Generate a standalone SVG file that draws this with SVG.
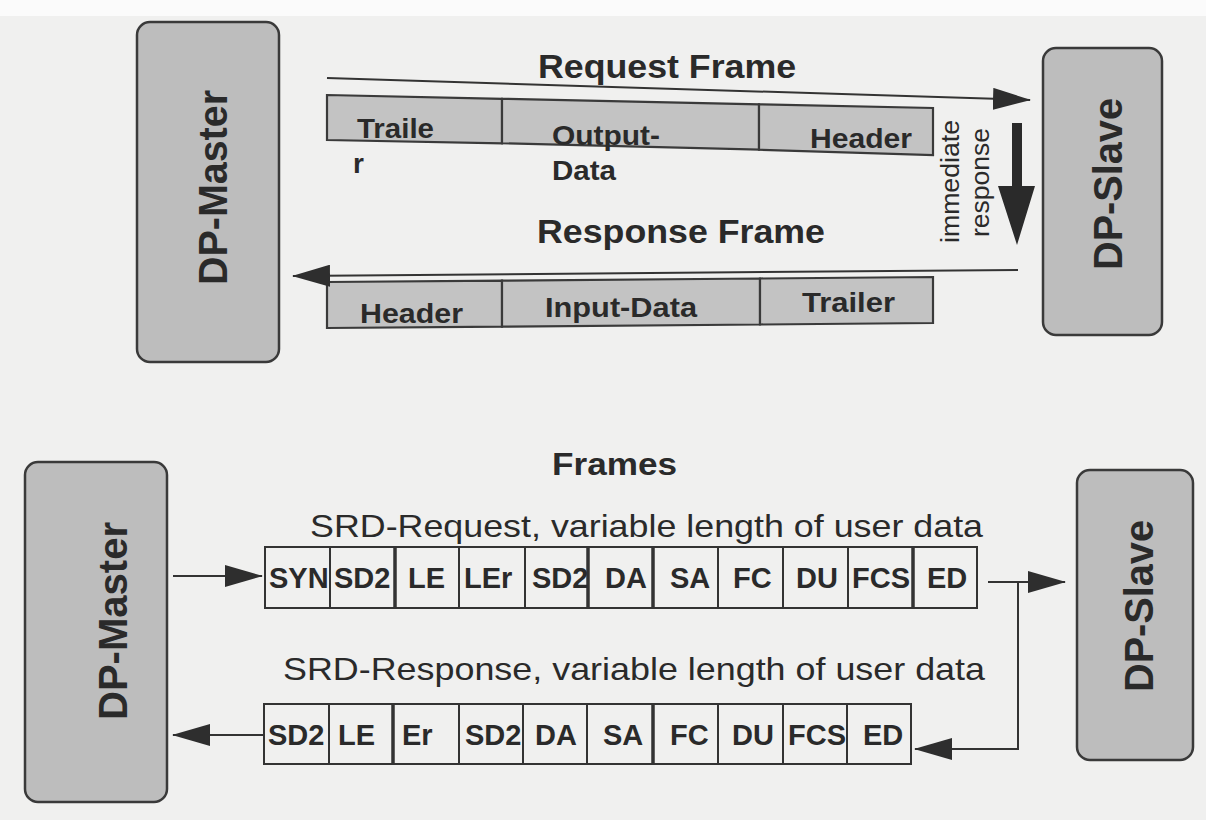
<svg xmlns="http://www.w3.org/2000/svg" width="1206" height="820" viewBox="0 0 1206 820">
<style>
.bg{fill:#f0f0ef}
.node{fill:#bdbdbd;stroke:#3a3a3a;stroke-width:2.5}
.cellg{fill:#c3c3c3;stroke:#3a3a3a;stroke-width:2.2}
.cell{fill:none;stroke:#333;stroke-width:2}
.thick{stroke-width:3.5}
.t{font-family:"Liberation Sans",Arial,Helvetica,sans-serif;fill:#2a2a2a}
.b{font-weight:bold}
.nl{font-size:40px;font-weight:bold}
.fl{font-size:28px;font-weight:bold}
.cl{font-size:29px;font-weight:bold}
.sub{font-size:32px}
.ln{fill:none;stroke:#333;stroke-width:2}
</style>
<defs>
<marker id="ah" viewBox="0 0 38 22" markerWidth="38" markerHeight="22" refX="37" refY="11" orient="auto" markerUnits="userSpaceOnUse">
<path d="M0,0 L38,11 L0,22 Z" fill="#2e2e2e"/>
</marker>
</defs>
<rect x="0" y="0" width="1206" height="820" fill="#fbfbfb"/>
<rect class="bg" x="0" y="16" width="1206" height="804"/>

<!-- Top section nodes -->
<g id="dp-master-top">
<rect class="node" x="137" y="22" width="142" height="340" rx="13"/>
<text class="t nl" transform="translate(227,285) rotate(-90)" textLength="195" lengthAdjust="spacingAndGlyphs">DP-Master</text>
</g>
<g id="dp-slave-top">
<rect class="node" x="1043" y="48" width="119" height="287" rx="13"/>
<text class="t nl" transform="translate(1122,270) rotate(-90)" textLength="172" lengthAdjust="spacingAndGlyphs">DP-Slave</text>
</g>

<g id="request-frame">
<polygon class="cellg" points="327,95 502,98.8 502,143.3 327,140"/>
<polygon class="cellg" points="502,98.8 759,104.3 759,149.7 502,143.3"/>
<polygon class="cellg" points="759,104.3 933,108 933,155 759,149.7"/>
<text class="t fl" x="357" y="138" textLength="77" lengthAdjust="spacingAndGlyphs">Traile</text>
<text class="t fl" x="353" y="173">r</text>
<text class="t fl" x="552" y="145" textLength="108" lengthAdjust="spacingAndGlyphs">Output-</text>
<text class="t fl" x="552" y="180" textLength="64" lengthAdjust="spacingAndGlyphs">Data</text>
<text class="t fl" x="810" y="148" textLength="102" lengthAdjust="spacingAndGlyphs">Header</text>
</g>

<g id="response-frame">
<polygon class="cellg" points="327,282 502,280.6 502,326.6 327,328"/>
<polygon class="cellg" points="502,280.6 760,278.5 760,324.5 502,326.6"/>
<polygon class="cellg" points="760,278.5 933,277 933,323 760,324.5"/>
<text class="t fl" x="360" y="323" textLength="103" lengthAdjust="spacingAndGlyphs">Header</text>
<text class="t fl" x="545" y="317" textLength="152" lengthAdjust="spacingAndGlyphs">Input-Data</text>
<text class="t fl" x="802" y="312" textLength="93" lengthAdjust="spacingAndGlyphs">Trailer</text>
</g>

<g id="top-labels">
<text class="t b" x="538" y="78" font-size="34" textLength="258" lengthAdjust="spacingAndGlyphs">Request Frame</text>
<text class="t b" x="537" y="243" font-size="34" textLength="288" lengthAdjust="spacingAndGlyphs">Response Frame</text>
<text class="t" font-size="25" transform="translate(959,243) rotate(-90)" textLength="123" lengthAdjust="spacingAndGlyphs">immediate</text>
<text class="t" font-size="25" transform="translate(989,237) rotate(-90)" textLength="109" lengthAdjust="spacingAndGlyphs">response</text>
</g>

<!-- Bottom section nodes -->
<g id="dp-master-bottom">
<rect class="node" x="25" y="462" width="142" height="340" rx="13"/>
<text class="t nl" transform="translate(127,720) rotate(-90)" textLength="198" lengthAdjust="spacingAndGlyphs">DP-Master</text>
</g>
<g id="dp-slave-bottom">
<rect class="node" x="1077" y="470" width="116" height="290" rx="13"/>
<text class="t nl" transform="translate(1153,692) rotate(-90)" textLength="172" lengthAdjust="spacingAndGlyphs">DP-Slave</text>
</g>

<g id="frames-title">
<text class="t b" x="552" y="475" font-size="32" textLength="125" lengthAdjust="spacingAndGlyphs">Frames</text>
</g>

<g id="srd-request">
<text class="t sub" x="310" y="537" textLength="673" lengthAdjust="spacingAndGlyphs">SRD-Request, variable length of user data</text>
<rect class="cell" x="265" y="547" width="712" height="61"/>
<path class="cell" d="M330,547V608 M459,547V608 M525,547V608 M718,547V608 M783,547V608 M848,547V608"/>
<path class="cell thick" d="M395,547V608 M588,547V608 M653,547V608 M913,547V608"/>
<text class="t cl" x="269" y="588">SYN</text>
<text class="t cl" x="334" y="588">SD2</text>
<text class="t cl" x="408" y="588">LE</text>
<text class="t cl" x="464" y="588">LEr</text>
<text class="t cl" x="532" y="588">SD2</text>
<text class="t cl" x="605" y="588">DA</text>
<text class="t cl" x="670" y="588">SA</text>
<text class="t cl" x="733" y="588">FC</text>
<text class="t cl" x="796" y="588">DU</text>
<text class="t cl" x="852" y="588">FCS</text>
<text class="t cl" x="927" y="588">ED</text>
</g>

<g id="srd-response">
<text class="t sub" x="283" y="680" textLength="702" lengthAdjust="spacingAndGlyphs">SRD-Response, variable length of user data</text>
<rect class="cell" x="264" y="704" width="647" height="60"/>
<path class="cell" d="M329,704V764 M459,704V764 M523,704V764 M587,704V764 M718,704V764 M783,704V764 M847,704V764"/>
<path class="cell thick" d="M393,704V764 M653,704V764"/>
<text class="t cl" x="268" y="745">SD2</text>
<text class="t cl" x="338" y="745">LE</text>
<text class="t cl" x="402" y="745">Er</text>
<text class="t cl" x="465" y="745">SD2</text>
<text class="t cl" x="535" y="745">DA</text>
<text class="t cl" x="603" y="745">SA</text>
<text class="t cl" x="670" y="745">FC</text>
<text class="t cl" x="732" y="745">DU</text>
<text class="t cl" x="788" y="745">FCS</text>
<text class="t cl" x="863" y="745">ED</text>
</g>

<g id="connectors">
<line class="ln" x1="327" y1="78" x2="1030" y2="100" marker-end="url(#ah)"/>
<line class="ln" x1="1018" y1="270" x2="293" y2="276" marker-end="url(#ah)"/>
<polygon points="1012,123 1022,123 1022,186 1035,186 1017,245 998,186 1012,186" fill="#2a2a2a"/>
<line class="ln" x1="173" y1="576" x2="262" y2="576" marker-end="url(#ah)"/>
<line class="ln" x1="263" y1="735" x2="173" y2="735" marker-end="url(#ah)"/>
<line class="ln" x1="988" y1="582" x2="1065" y2="582" marker-end="url(#ah)"/>
<polyline class="ln" points="1018,582 1018,749 915,749" marker-end="url(#ah)"/>
</g>
</svg>
